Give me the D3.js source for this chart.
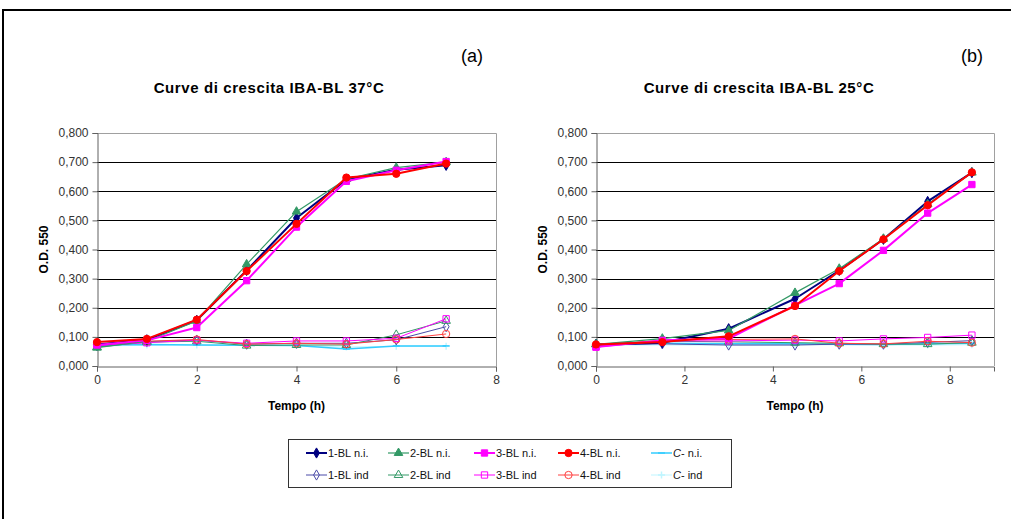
<!DOCTYPE html>
<html>
<head>
<meta charset="utf-8">
<script src="https://cdn.jsdelivr.net/npm/d3@7"></script>
<style>
  body { margin: 0; background: #fff; }
  svg text { font-family: "Liberation Sans", Arial, sans-serif; }
</style>
</head>
<body>
<div id="chart"></div>
<script>
// times (h)
const times37 = [0, 1, 2, 3, 4, 5, 6, 7];
const times25 = [0, 1.5, 3, 4.5, 5.5, 6.5, 7.5, 8.5];

const seriesNames = ["1-BL n.i.", "2-BL n.i.", "3-BL n.i.", "4-BL n.i.", "C- n.i.",
                     "1-BL ind", "2-BL ind", "3-BL ind", "4-BL ind", "C- ind"];

// O.D. 550 at 37°C
const bl1ni37 = [0.074, 0.090, 0.157, 0.328, 0.508, 0.640, 0.674, 0.689];
const bl2ni37 = [0.063, 0.085, 0.155, 0.349, 0.530, 0.642, 0.681, 0.700];
const bl3ni37 = [0.072, 0.088, 0.132, 0.293, 0.477, 0.634, 0.672, 0.702];
const bl4ni37 = [0.082, 0.093, 0.159, 0.326, 0.488, 0.647, 0.660, 0.695];
const cni37   = [0.072, 0.074, 0.072, 0.071, 0.070, 0.058, 0.069, 0.069];
const bl1ind37 = [0.069, 0.084, 0.089, 0.075, 0.078, 0.078, 0.090, 0.135];
const bl2ind37 = [0.065, 0.082, 0.085, 0.070, 0.072, 0.072, 0.107, 0.155];
const bl3ind37 = [0.070, 0.080, 0.089, 0.078, 0.086, 0.086, 0.095, 0.162];
const bl4ind37 = [0.075, 0.085, 0.091, 0.075, 0.078, 0.075, 0.091, 0.110];
const cind37   = [0.068, 0.072, 0.072, 0.072, 0.070, 0.065, 0.068, 0.068];

// O.D. 550 at 25°C
const bl1ni25 = [0.074, 0.080, 0.128, 0.231, 0.328, 0.435, 0.565, 0.664];
const bl2ni25 = [0.074, 0.094, 0.122, 0.251, 0.334, 0.437, 0.555, 0.664];
const bl3ni25 = [0.065, 0.088, 0.094, 0.208, 0.283, 0.397, 0.525, 0.623];
const bl4ni25 = [0.074, 0.082, 0.102, 0.206, 0.326, 0.435, 0.552, 0.665];
const cni25   = [0.075, 0.078, 0.076, 0.076, 0.075, 0.074, 0.076, 0.078];
const bl1ind25 = [0.072, 0.076, 0.072, 0.072, 0.075, 0.075, 0.081, 0.087];
const bl2ind25 = [0.075, 0.085, 0.083, 0.080, 0.078, 0.075, 0.075, 0.080];
const bl3ind25 = [0.065, 0.086, 0.086, 0.089, 0.086, 0.093, 0.098, 0.106];
const bl4ind25 = [0.070, 0.089, 0.091, 0.093, 0.078, 0.076, 0.085, 0.080];
const cind25   = [0.072, 0.072, 0.072, 0.073, 0.073, 0.072, 0.072, 0.073];

const yTicks = [0, 0.1, 0.2, 0.3, 0.4, 0.5, 0.6, 0.7, 0.8];
const xTicks = [0, 2, 4, 6, 8];

// looks per series, same order as seriesNames
const styles = [
  { color: "#000080", width: 2,   symbol: "diamond",  filled: true },
  { color: "#339966", width: 1.2, symbol: "triangle", filled: true },
  { color: "#FF00FF", width: 2,   symbol: "square",   filled: true },
  { color: "#FF0000", width: 2,   symbol: "circle",   filled: true },
  { color: "#33CCFF", width: 1.5, symbol: "dash",     filled: true },
  { color: "#4B4BA8", width: 1,   symbol: "diamond",  filled: false },
  { color: "#339966", width: 1,   symbol: "triangle", filled: false },
  { color: "#FF00FF", width: 1,   symbol: "square",   filled: false },
  { color: "#FF4040", width: 1,   symbol: "circle",   filled: false },
  { color: "#BFF5FF", width: 1,   symbol: "plus",     filled: false }
];

let svg = null;
const width = 1011, height = 519;

appendSvg();
drawFrame();
drawPanel({
  left: 97, right: 496, top: 133, bottom: 366,
  xMax: 8, times: times37,
  values: [bl1ni37, bl2ni37, bl3ni37, bl4ni37, cni37, bl1ind37, bl2ind37, bl3ind37, bl4ind37, cind37],
  title: "Curve di crescita IBA-BL 37°C", titleX: 269, tag: "(a)", tagX: 472, yTitleX: 44
});
drawPanel({
  left: 596, right: 994, top: 133, bottom: 366,
  xMax: 9, times: times25,
  values: [bl1ni25, bl2ni25, bl3ni25, bl4ni25, cni25, bl1ind25, bl2ind25, bl3ind25, bl4ind25, cind25],
  title: "Curve di crescita IBA-BL 25°C", titleX: 759, tag: "(b)", tagX: 972, yTitleX: 543
});
addLegend();

function appendSvg() {
  svg = d3.select("#chart")
    .append("svg")
    .attr("width", width)
    .attr("height", height);
}

function drawFrame() {
  svg.append("path")
    .attr("d", "M3," + height + "V10H" + width)
    .attr("fill", "none")
    .attr("stroke", "#000")
    .attr("stroke-width", 2);
}

function markerPath(kind, size) {
  if (kind === "dash") return "M" + (-size / 2) + ",0H" + (size / 2);
  if (kind === "plus") return "M" + (-size / 2) + ",0H" + (size / 2) + "M0," + (-size / 2) + "V" + (size / 2);
  var types = { diamond: d3.symbolDiamond, triangle: d3.symbolTriangle, square: d3.symbolSquare, circle: d3.symbolCircle };
  var area = { diamond: 30, triangle: 32, square: 40, circle: 42 };
  return d3.symbol().type(types[kind]).size(area[kind] * size / 7)();
}

function drawMarker(g, st, x, y) {
  var line = st.symbol === "dash" || st.symbol === "plus";
  g.append("path")
    .attr("transform", "translate(" + x + "," + y + ")")
    .attr("d", markerPath(st.symbol, 7))
    .attr("fill", line ? "none" : (st.filled ? st.color : "#fff"))
    .attr("fill-opacity", st.filled ? 1 : 0)
    .attr("stroke", st.color)
    .attr("stroke-width", line ? 1.5 : 1);
}

function drawPanel(p) {
  var x = d3.scaleLinear().domain([0, p.xMax]).range([p.left, p.right]);
  var y = d3.scaleLinear().domain([0, 0.8]).range([p.bottom, p.top]);
  var fmt = function(d) { return d3.format(".3f")(d).replace(".", ","); };

  var g = svg.append("g");

  // gridlines
  g.append("g")
    .selectAll("line")
    .data(yTicks.filter(function(d) { return d > 0 && d < 0.8; }))
    .enter().append("line")
    .attr("x1", p.left).attr("x2", p.right)
    .attr("y1", function(d) { return Math.round(y(d)) + 0.5; })
    .attr("y2", function(d) { return Math.round(y(d)) + 0.5; })
    .attr("stroke", "#000")
    .attr("stroke-width", 1);

  // plot border (top and right)
  g.append("path")
    .attr("d", "M" + p.left + "," + (p.top + 0.5) + "H" + (p.right + 0.5) + "V" + p.bottom)
    .attr("fill", "none")
    .attr("stroke", "#A0A0A0")
    .attr("stroke-width", 1);

  var yAxis = g.append("g")
    .attr("transform", "translate(" + (p.left + 0.5) + ",0)")
    .call(d3.axisLeft(y).tickValues(yTicks).tickFormat(fmt).tickSize(5).tickPadding(4));
  var xAxis = g.append("g")
    .attr("transform", "translate(0," + (p.bottom + 0.5) + ")")
    .call(d3.axisBottom(x).tickValues(xTicks).tickSize(5).tickPadding(4));

  [yAxis, xAxis].forEach(function(a) {
    a.select(".domain").attr("stroke", "#606060");
    a.selectAll(".tick line").attr("stroke", "#606060");
    a.selectAll("text")
      .style("font-family", "'Liberation Sans', Arial, sans-serif")
      .style("font-size", "12px")
      .attr("fill", "#333");
  });

  // series
  var lineGen = d3.line()
    .x(function(d) { return x(d[0]); })
    .y(function(d) { return y(d[1]); });

  var order = [9, 4, 5, 6, 7, 8, 0, 1, 2, 3];
  order.forEach(function(i) {
    var st = styles[i];
    var pts = p.times.map(function(t, k) { return [t, p.values[i][k]]; });
    var sg = g.append("g").attr("class", "series");
    sg.append("path")
      .datum(pts)
      .attr("d", lineGen)
      .attr("fill", "none")
      .attr("stroke", st.color)
      .attr("stroke-width", st.width)
      .attr("stroke-linejoin", "round");
    pts.forEach(function(d) { drawMarker(sg, st, x(d[0]), y(d[1])); });
  });

  // texts
  svg.append("text")
    .attr("x", p.titleX).attr("y", 93)
    .attr("text-anchor", "middle")
    .style("font-size", "15px").style("font-weight", "bold")
    .style("letter-spacing", "0.6px")
    .text(p.title);

  svg.append("text")
    .attr("x", p.tagX).attr("y", 62)
    .attr("text-anchor", "middle")
    .style("font-size", "18px")
    .text(p.tag);

  svg.append("text")
    .attr("transform", "translate(" + p.yTitleX + "," + ((p.top + p.bottom) / 2) + ") rotate(-90)")
    .attr("text-anchor", "middle")
    .attr("dy", "0.35em")
    .style("font-size", "12px").style("font-weight", "bold")
    .text("O.D. 550");

  svg.append("text")
    .attr("x", (p.left + p.right) / 2).attr("y", 410)
    .attr("text-anchor", "middle")
    .style("font-size", "12px").style("font-weight", "bold")
    .text("Tempo (h)");
}

function addLegend() {
  var colX = [306, 388, 474, 558, 651];
  var rowY = [453, 475];

  svg.append("rect")
    .attr("x", 288.5).attr("y", 439.5)
    .attr("width", 443).attr("height", 48)
    .attr("fill", "#fff")
    .attr("stroke", "#333")
    .attr("stroke-width", 1);

  var legend = svg.selectAll("g.legend")
    .data(seriesNames)
    .enter().append("g")
    .attr("class", "legend")
    .attr("transform", function(d, i) {
      return "translate(" + colX[i % 5] + "," + rowY[Math.floor(i / 5)] + ")";
    });

  legend.each(function(d, i) {
    var g = d3.select(this);
    var st = styles[i];
    g.append("line")
      .attr("x1", 0).attr("x2", 21)
      .attr("stroke", st.color)
      .attr("stroke-width", st.width);
    drawMarker(g, st, 10.5, 0);
    var t = g.append("text")
      .attr("x", 22).attr("dy", "0.35em")
      .style("font-size", "11px")
      .attr("fill", "#111");
    if (d.indexOf("C-") === 0) {
      t.append("tspan").style("font-style", "italic").text("C");
      t.append("tspan").text(d.slice(1));
    } else {
      t.text(d);
    }
  });
}
</script>
</body>
</html>
